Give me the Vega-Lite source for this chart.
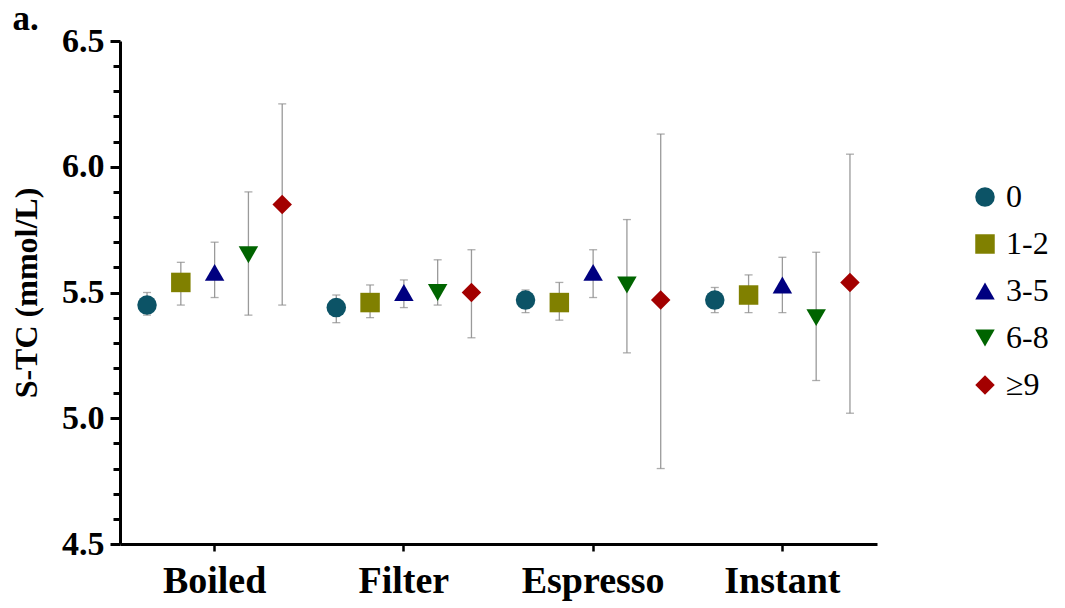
{
  "$schema": "https://vega.github.io/schema/vega-lite/v6.json",
  "width": 757,
  "height": 503,
  "autosize": {"type": "none"},
  "padding": {"left": 120, "top": 41, "right": 188, "bottom": 64},
  "background": "white",
  "config": {
    "view": {"stroke": null},
    "font": "Liberation Serif",
    "legend": {
      "orient": "none",
      "legendX": 849,
      "legendY": 140,
      "padding": 0,
      "labelFont": "Liberation Serif",
      "labelFontSize": 32,
      "labelColor": "black",
      "labelOffset": 5,
      "symbolSize": 380,
      "symbolStrokeWidth": 0,
      "rowPadding": 15,
      "labelLimit": 200
    }
  },
  "title": {
    "text": "a.",
    "anchor": "start",
    "frame": "bounds",
    "font": "Liberation Serif",
    "fontSize": 35,
    "fontWeight": "bold",
    "color": "black",
    "baseline": "alphabetic",
    "offset": -41,
    "dx": 2
  },
  "resolve": {"axis": {"y": "independent"}},
  "data": {
    "values": [
      {"method": "Boiled", "cups": "0", "mean": 5.45, "lower": 5.41, "upper": 5.50},
      {"method": "Boiled", "cups": "1-2", "mean": 5.54, "lower": 5.45, "upper": 5.62},
      {"method": "Boiled", "cups": "3-5", "mean": 5.58, "lower": 5.48, "upper": 5.70},
      {"method": "Boiled", "cups": "6-8", "mean": 5.65, "lower": 5.41, "upper": 5.90},
      {"method": "Boiled", "cups": "≥9", "mean": 5.85, "lower": 5.45, "upper": 6.25},
      {"method": "Filter", "cups": "0", "mean": 5.44, "lower": 5.38, "upper": 5.49},
      {"method": "Filter", "cups": "1-2", "mean": 5.46, "lower": 5.40, "upper": 5.53},
      {"method": "Filter", "cups": "3-5", "mean": 5.50, "lower": 5.44, "upper": 5.55},
      {"method": "Filter", "cups": "6-8", "mean": 5.50, "lower": 5.45, "upper": 5.63},
      {"method": "Filter", "cups": "≥9", "mean": 5.50, "lower": 5.32, "upper": 5.67},
      {"method": "Espresso", "cups": "0", "mean": 5.47, "lower": 5.42, "upper": 5.51},
      {"method": "Espresso", "cups": "1-2", "mean": 5.46, "lower": 5.39, "upper": 5.54},
      {"method": "Espresso", "cups": "3-5", "mean": 5.58, "lower": 5.48, "upper": 5.67},
      {"method": "Espresso", "cups": "6-8", "mean": 5.53, "lower": 5.26, "upper": 5.79},
      {"method": "Espresso", "cups": "≥9", "mean": 5.47, "lower": 4.80, "upper": 6.13},
      {"method": "Instant", "cups": "0", "mean": 5.47, "lower": 5.42, "upper": 5.52},
      {"method": "Instant", "cups": "1-2", "mean": 5.49, "lower": 5.42, "upper": 5.57},
      {"method": "Instant", "cups": "3-5", "mean": 5.53, "lower": 5.42, "upper": 5.64},
      {"method": "Instant", "cups": "6-8", "mean": 5.40, "lower": 5.15, "upper": 5.66},
      {"method": "Instant", "cups": "≥9", "mean": 5.54, "lower": 5.02, "upper": 6.05}
    ]
  },
  "encoding": {
    "x": {
      "field": "method",
      "type": "nominal",
      "sort": ["Boiled", "Filter", "Espresso", "Instant"],
      "scale": {"paddingInner": 0, "paddingOuter": 0},
      "axis": {
        "title": null,
        "labelAngle": 0,
        "labelFont": "Liberation Serif",
        "labelFontWeight": "bold",
        "labelFontSize": 38,
        "labelColor": "black",
        "labelPadding": 11,
        "domainColor": "black",
        "domainWidth": 3,
        "tickColor": "black",
        "tickWidth": 2.5,
        "tickSize": 7
      }
    },
    "xOffset": {
      "field": "cups",
      "type": "nominal",
      "sort": ["0", "1-2", "3-5", "6-8", "≥9"],
      "scale": {"paddingInner": 0, "paddingOuter": 0.3}
    }
  },
  "layer": [
    {
      "mark": {"type": "rule", "color": "#9a9a9a", "strokeWidth": 1.3},
      "encoding": {
        "y": {
          "field": "lower",
          "type": "quantitative",
          "scale": {"domain": [4.5, 6.5], "nice": false, "zero": false},
          "axis": {
            "orient": "left",
            "title": "S-TC (mmol/L)",
            "values": [4.5, 5.0, 5.5, 6.0, 6.5],
            "format": ".1f",
            "labelOverlap": false,
            "labelFlush": false,
            "tickSize": 10,
            "tickWidth": 3,
            "tickColor": "black",
            "domainColor": "black",
            "domainWidth": 3,
            "grid": false,
            "labelFont": "Liberation Serif",
            "labelFontWeight": "bold",
            "labelFontSize": 34,
            "labelColor": "black",
            "labelPadding": 6,
            "titleFont": "Liberation Serif",
            "titleFontWeight": "bold",
            "titleFontSize": 32,
            "titleColor": "black",
            "titlePadding": 18
          }
        },
        "y2": {"field": "upper"}
      }
    },
    {
      "mark": {"type": "tick", "color": "#8a8a8a", "size": 8, "thickness": 1.3},
      "encoding": {
        "y": {
          "field": "lower",
          "type": "quantitative",
          "axis": {
            "orient": "left",
            "title": null,
            "values": [4.6, 4.7, 4.8, 4.9, 5.1, 5.2, 5.3, 5.4, 5.6, 5.7, 5.8, 5.9, 6.1, 6.2, 6.3, 6.4],
            "labels": false,
            "domain": false,
            "grid": false,
            "tickSize": 7,
            "tickWidth": 3,
            "tickColor": "black"
          }
        }
      }
    },
    {
      "mark": {"type": "tick", "color": "#8a8a8a", "size": 8, "thickness": 1.3},
      "encoding": {
        "y": {"field": "upper", "type": "quantitative", "axis": null}
      }
    },
    {
      "mark": {"type": "point", "filled": true, "size": 380, "opacity": 1},
      "encoding": {
        "y": {"field": "mean", "type": "quantitative", "axis": null},
        "color": {
          "field": "cups",
          "type": "nominal",
          "sort": ["0", "1-2", "3-5", "6-8", "≥9"],
          "scale": {"domain": ["0", "1-2", "3-5", "6-8", "≥9"], "range": ["#0c5366", "#808000", "#000080", "#006400", "#a30000"]},
          "title": null
        },
        "shape": {
          "field": "cups",
          "type": "nominal",
          "sort": ["0", "1-2", "3-5", "6-8", "≥9"],
          "scale": {"domain": ["0", "1-2", "3-5", "6-8", "≥9"], "range": ["circle", "square", "triangle-up", "triangle-down", "diamond"]},
          "title": null
        }
      }
    }
  ]
}
